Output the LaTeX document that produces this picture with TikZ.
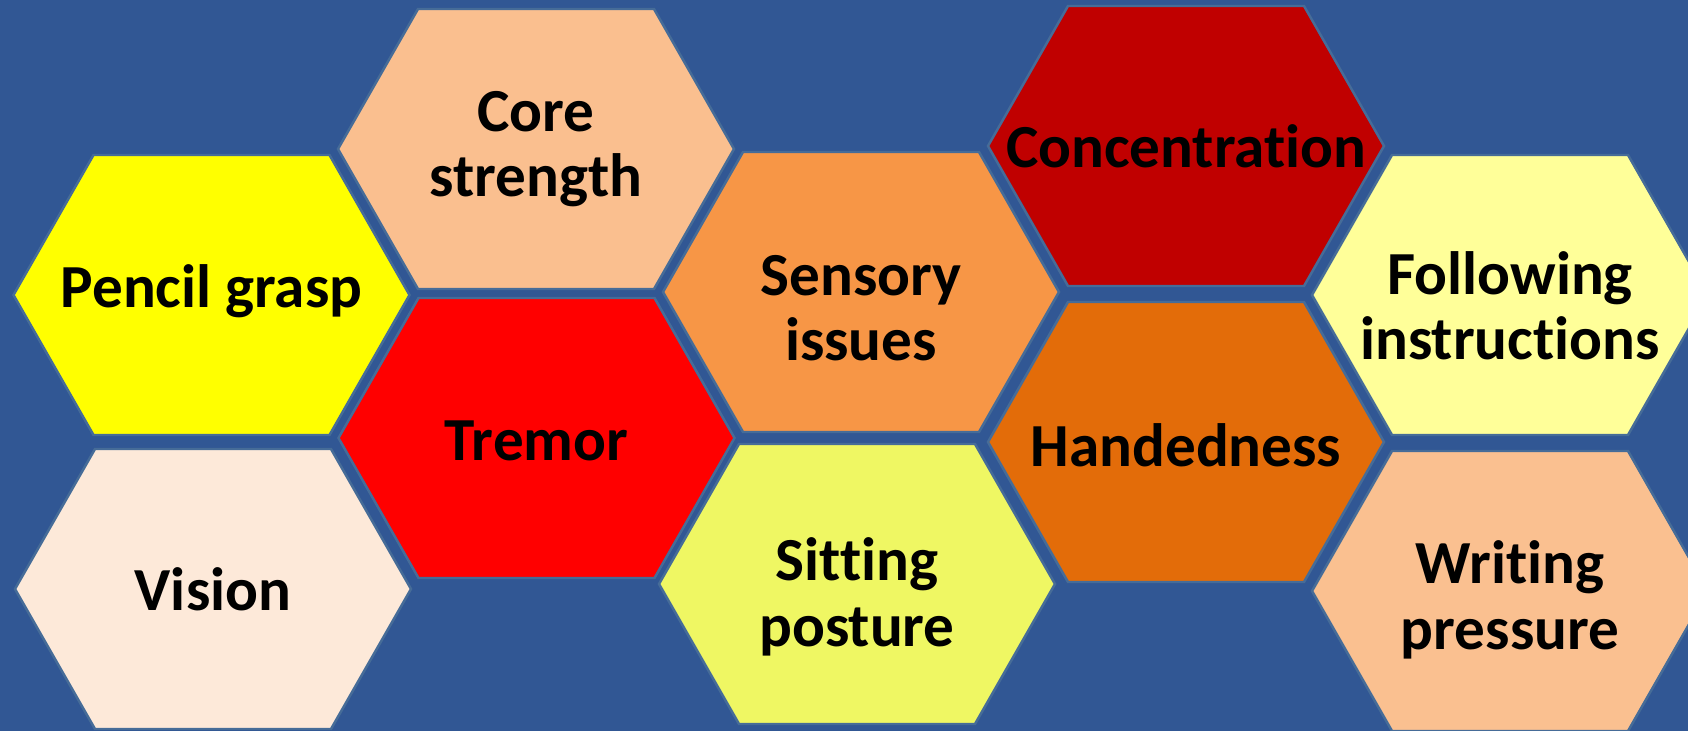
\documentclass[tikz,border=0pt]{standalone}
\usepackage{fontspec}
\setmainfont{Carlito}[Ligatures=NoCommon]
\definecolor{bgblue}{RGB}{49,87,148}
\definecolor{hexline}{RGB}{70,108,152}
\definecolor{corepeach}{RGB}{250,191,143}
\definecolor{pencilyellow}{RGB}{255,255,0}
\definecolor{tremorred}{RGB}{255,0,0}
\definecolor{visioncream}{RGB}{253,233,217}
\definecolor{sensoryorange}{RGB}{247,150,70}
\definecolor{sittinglime}{RGB}{239,247,99}
\definecolor{concred}{RGB}{192,0,0}
\definecolor{handorange}{RGB}{227,108,9}
\definecolor{followyellow}{RGB}{255,255,153}
\definecolor{writepeach}{RGB}{250,192,144}
\begin{document}
\begin{tikzpicture}[x=0.01cm,y=-0.01cm,
    hexcell/.style={draw=hexline, line width=0.7pt, line join=miter},
    hextext/.style={align=center, text=black,
        font=\fontsize{17.4}{18.6}\selectfont\bfseries}]
    \useasboundingbox (0,0) rectangle (1688,731);
    \fill[bgblue] (0,0) rectangle (1688,731);
    \clip (0,0) rectangle (1688,731);

    % one hexagon per skill: centre / text drop / colour / name / label
    \foreach \cx/\cy/\dy/\col/\nm/\txt in {
        211.5/295/-4/pencilyellow/pencil/{Pencil grasp},
        213/589/0/visioncream/vision/{Vision},
        536/149/0/corepeach/core/{Core\\strength},
        536.5/438/3/tremorred/tremor/{Tremor},
        861/292/16/sensoryorange/sensory/{Sensory\\issues},
        857/584/13/sittinglime/sitting/{Sitting\\posture},
        1186/146/0/concred/conc/{Concentration},
        1186/442/3/handorange/hand/{Handedness},
        1510/295/11/followyellow/follow/{Following\\instructions},
        1510/591/9/writepeach/writing/{Writing\\pressure}}{
        \draw[hexcell, fill=\col] (\cx,\cy) ++(-198,0) -- ++(80,-140) -- ++(236,0)
            -- ++(80,140) -- ++(-80,140) -- ++(-236,0) -- cycle;
        \node[hextext] (\nm) at (\cx,{\cy+\dy}) {\txt};
    }
\end{tikzpicture}
\end{document}
